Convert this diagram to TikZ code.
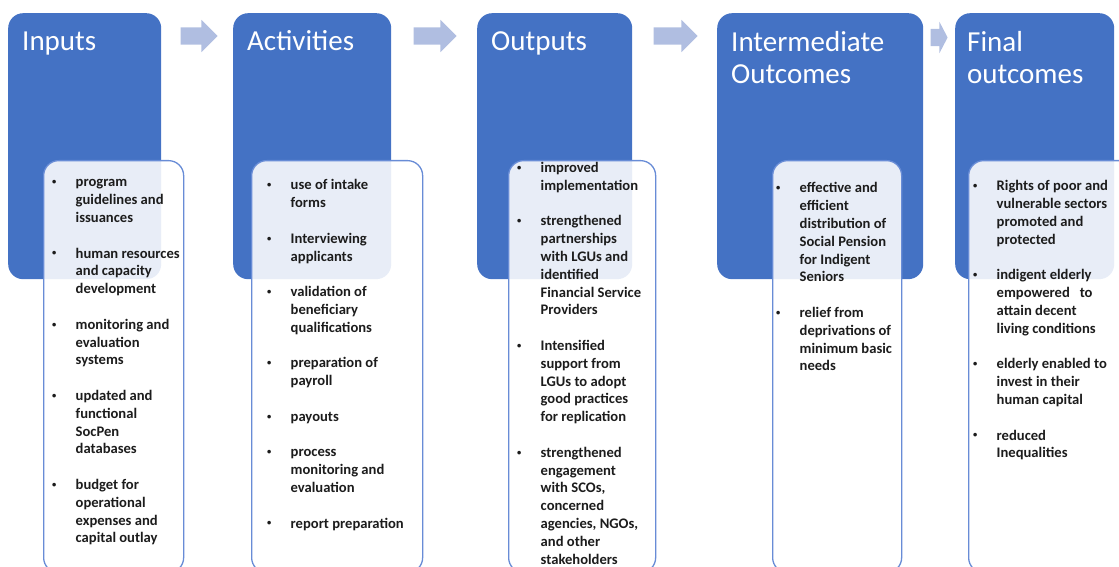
\documentclass[tikz,border=0pt]{standalone}
\usepackage{fontspec}
\setmainfont{Carlito}
\usetikzlibrary{shapes.arrows}
\definecolor{boxblue}{RGB}{68,114,196}
\definecolor{arrowblue}{RGB}{176,190,225}
\definecolor{listedge}{RGB}{104,140,214}
\definecolor{listink}{RGB}{28,28,28}
\newcommand{\blt}{\hspace*{1.5pt}\raisebox{2.2pt}{\fontsize{8.5}{8.5}\selectfont\textbullet}}

\begin{document}
\begin{tikzpicture}[
    x=1pt, y=1pt,
    stagebox/.style={rectangle, draw=none, fill=boxblue, rounded corners=15pt, anchor=north west, minimum height=266pt},
    stagename/.style={anchor=base west, inner sep=0pt, text=white, font=\fontsize{29}{32}\selectfont},
    flowarrow/.style={single arrow, draw=none, fill=arrowblue, anchor=west, minimum height=37pt, inner ysep=8.5pt, inner xsep=0pt, single arrow head extend=7.5pt},
    listbox/.style={rectangle, draw=listedge, line width=1.3pt, fill=white, fill opacity=0.88, rounded corners=15pt, anchor=north west, minimum height=412pt},
    itemtext/.style={anchor=base west, inner sep=0pt, text=listink, font=\bfseries\fontsize{14.6}{17.8}\selectfont},
]
\useasboundingbox (0,0) rectangle (1119,567);
\clip (0,0) rectangle (1119,567);

% the five stages
\node[stagebox, minimum width=153pt] (inputs)     at (8,554)   {};
\node[stagebox, minimum width=158pt] (activities) at (233,554) {};
\node[stagebox, minimum width=155pt] (outputs)    at (477,554) {};
\node[stagebox, minimum width=206pt] (intermed)   at (717,554) {};
\node[stagebox, minimum width=159pt] (final)      at (955,554) {};

\node[stagename] (inputsname)     at ([xshift=14pt,yshift=-38pt]inputs.north west)     {Inputs};
\node[stagename] (activitiesname) at ([xshift=14pt,yshift=-38pt]activities.north west) {Activities};
\node[stagename] (outputsname)    at ([xshift=14pt,yshift=-38pt]outputs.north west)    {Outputs};
\node[stagename] (intermedname)   at ([xshift=14pt,yshift=-39pt]intermed.north west)
    {\begin{tabular}[t]{@{}l@{}}Intermediate\\Outcomes\end{tabular}};
\node[stagename] (finalname)      at ([xshift=12pt,yshift=-39pt]final.north west)
    {\begin{tabular}[t]{@{}l@{}}Final\\outcomes\end{tabular}};

% block arrows between the stages
\node[flowarrow] (arr1) at ([xshift=19pt,yshift=-23pt]inputs.north east) {};
\node[flowarrow, minimum height=43pt] (arr2) at ([xshift=22pt,yshift=-23pt]activities.north east) {};
\node[flowarrow, minimum height=44pt] (arr3) at ([xshift=21pt,yshift=-23pt]outputs.north east) {};
\node[flowarrow, minimum height=17pt, single arrow tip angle=125, single arrow head extend=7pt] (arr4)
    at ([xshift=7pt,yshift=-24.5pt]intermed.north east) {};

% the lists, laid over the stages
\node[listbox, minimum width=140pt] (inlist)  at (43,407)  {};
\node[listbox, minimum width=171pt] (actlist) at (251,407) {};
\node[listbox, minimum width=147pt] (outlist) at (508,407) {};
\node[listbox, minimum width=129pt] (intlist) at (772,407) {};
\node[listbox, minimum width=165pt] (finlist) at (968,407) {};

\node[itemtext] (inputsitems) at ([xshift=7.5pt,yshift=-27pt]inlist.north west) {%
\begin{tabular}[t]{@{}p{25pt}@{}l@{}}
\blt & program\\ & guidelines and\\ & issuances\\[17.8pt]
\blt & human resources\\ & and capacity\\ & development\\[17.8pt]
\blt & monitoring and\\ & evaluation\\ & systems\\[17.8pt]
\blt & updated and\\ & functional\\ & SocPen\\ & databases\\[17.8pt]
\blt & budget for\\ & operational\\ & expenses and\\ & capital outlay
\end{tabular}};

\node[itemtext] (activitiesitems) at ([xshift=14.5pt,yshift=-30pt]actlist.north west) {%
\begin{tabular}[t]{@{}p{25pt}@{}l@{}}
\blt & use of intake\\ & forms\\[17.8pt]
\blt & Interviewing\\ & applicants\\[17.8pt]
\blt & validation of\\ & beneficiary\\ & qualifications\\[17.8pt]
\blt & preparation of\\ & payroll\\[17.8pt]
\blt & payouts\\[17.8pt]
\blt & process\\ & monitoring and\\ & evaluation\\[17.8pt]
\blt & report preparation
\end{tabular}};

\node[itemtext] (outputsitems) at ([xshift=7.5pt,yshift=-12.5pt]outlist.north west) {%
\begin{tabular}[t]{@{}p{25pt}@{}l@{}}
\blt & improved\\ & implementation\\[17.8pt]
\blt & strengthened\\ & partnerships\\ & with LGUs and\\ & identified\\ & Financial Service\\ & Providers\\[17.8pt]
\blt & Intensified\\ & support from\\ & LGUs to adopt\\ & good practices\\ & for replication\\[17.8pt]
\blt & strengthened\\ & engagement\\ & with SCOs,\\ & concerned\\ & agencies, NGOs,\\ & and other\\ & stakeholders
\end{tabular}};

\node[itemtext] (intermeditems) at ([xshift=2.5pt,yshift=-33pt]intlist.north west) {%
\begin{tabular}[t]{@{}p{25pt}@{}l@{}}
\blt & effective and\\ & efficient\\ & distribution of\\ & Social Pension\\ & for Indigent\\ & Seniors\\[17.8pt]
\blt & relief from\\ & deprivations of\\ & minimum basic\\ & needs
\end{tabular}};

\node[itemtext] (finalitems) at ([xshift=3.5pt,yshift=-31pt]finlist.north west) {%
\begin{tabular}[t]{@{}p{25pt}@{}l@{}}
\blt & Rights of poor and\\ & vulnerable sectors\\ & promoted and\\ & protected\\[17.8pt]
\blt & indigent elderly\\ & empowered~~ to\\ & attain decent\\ & living conditions\\[17.8pt]
\blt & elderly enabled to\\ & invest in their\\ & human capital\\[17.8pt]
\blt & reduced\\ & Inequalities
\end{tabular}};
\end{tikzpicture}
\end{document}
